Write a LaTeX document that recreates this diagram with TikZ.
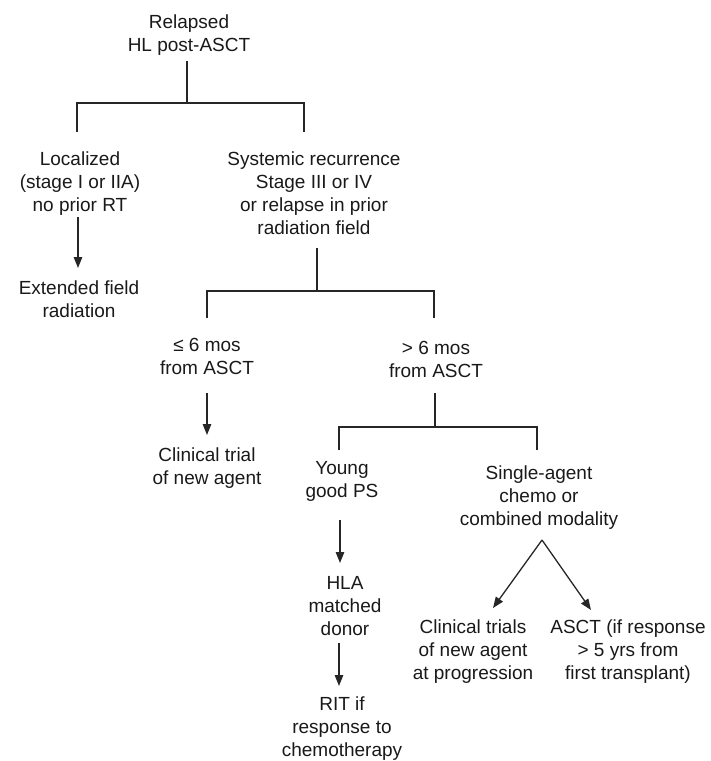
\documentclass[tikz,border=0pt]{standalone}
\usepackage{fontspec}
\setmainfont{Liberation Sans}
\usetikzlibrary{arrows.meta}
\begin{document}
\begin{tikzpicture}[x=1pt,y=-1pt,
  txt/.style={align=center, font=\fontsize{19}{23}\selectfont, inner sep=0pt, text=black!90},
  ln/.style={line width=1.3pt, black!85},
  arr/.style={ln, -{Triangle[length=11pt,width=8.5pt]}}]
\useasboundingbox (0,0) rectangle (711,761);

% text nodes
\node[txt] (root)   at (189,35.5)  {Relapsed\\HL post-ASCT};
\node[txt] (loc)    at (80,184)    {Localized\\(stage I or IIA)\\no prior RT};
\node[txt] (ext)    at (79,299)    {Extended field\\radiation};
\node[txt] (sys)    at (314,193.5) {Systemic recurrence\\Stage III or IV\\or relapse in prior\\radiation field};
\node[txt] (le6)    at (207,356)   {≤ 6 mos\\from ASCT};
\node[txt] (ct)     at (207,468.5) {Clinical trial\\of new agent};
\node[txt] (gt6)    at (436,359.5) {> 6 mos\\from ASCT};
\node[txt] (young)  at (342,481.5) {Young\\good PS};
\node[txt] (hla)    at (345,606.5) {HLA\\matched\\donor};
\node[txt] (rit)    at (342,729)   {RIT if\\response to\\chemotherapy};
\node[txt] (single) at (539,498)   {Single-agent\\chemo or\\combined modality};
\node[txt] (ctp)    at (473,652)   {Clinical trials\\of new agent\\at progression};
\node[txt] (asct)   at (628,652)   {ASCT (if response\\> 5 yrs from\\first transplant)};

% connector end points
\coordinate (rootOut) at (187,61);
\coordinate (rootJ)   at (187,103);
\coordinate (locIn)   at (77,132);
\coordinate (locJ)    at (77,103);
\coordinate (sysJ)    at (304,103);
\coordinate (sysIn)   at (304,132);
\coordinate (locOut)  at (78,217);
\coordinate (extIn)   at (78,268);
\coordinate (sysOut)  at (317,248);
\coordinate (sysB)    at (317,291);
\coordinate (le6J)    at (207,291);
\coordinate (le6In)   at (207,318);
\coordinate (gt6J)    at (434,291);
\coordinate (gt6In)   at (434,318);
\coordinate (le6Out)  at (207,393);
\coordinate (ctIn)    at (207,435);
\coordinate (gt6Out)  at (435,393);
\coordinate (gt6B)    at (435,427);
\coordinate (youngJ)  at (339,427);
\coordinate (youngIn) at (339,450);
\coordinate (singleJ) at (537,427);
\coordinate (singleIn) at (537,450);
\coordinate (youngOut) at (340,520);
\coordinate (hlaIn)   at (340,563);
\coordinate (hlaOut)  at (339,643);
\coordinate (ritIn)   at (339,686);
\coordinate (singleOut) at (542,540);
\coordinate (ctpIn)   at (493,608);
\coordinate (asctIn)  at (591,610);

% connectors
\draw[ln] (rootOut) -- (rootJ);
\draw[ln] (locIn) -- (locJ) -- (sysJ) -- (sysIn);
\draw[arr] (locOut) -- (extIn);
\draw[ln] (sysOut) -- (sysB);
\draw[ln] (le6In) -- (le6J) -- (gt6J) -- (gt6In);
\draw[arr] (le6Out) -- (ctIn);
\draw[ln] (gt6Out) -- (gt6B);
\draw[ln] (youngIn) -- (youngJ) -- (singleJ) -- (singleIn);
\draw[arr] (youngOut) -- (hlaIn);
\draw[arr] (hlaOut) -- (ritIn);
\draw[arr] (singleOut) -- (ctpIn);
\draw[arr] (singleOut) -- (asctIn);
\end{tikzpicture}
\end{document}
